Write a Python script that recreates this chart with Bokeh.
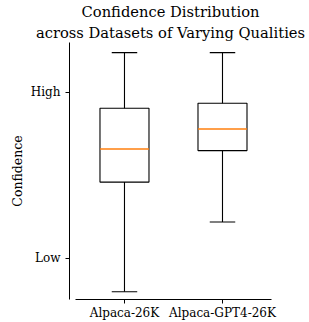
from bokeh.plotting import figure
from bokeh.models import ColumnDataSource, Title, FixedTicker, Range1d
from bokeh.transform import dodge
from bokeh.embed import file_html
from bokeh.resources import INLINE

# ---- data (Low = 0, High = 1 on the confidence scale) ----
categories = ["Alpaca-26K", "Alpaca-GPT4-26K"]
positions = [1, 2]
whisker_low = [-0.20, 0.22]
q1 = [0.46, 0.65]
median = [0.66, 0.78]
q3 = [0.905, 0.935]
whisker_high = [1.24, 1.24]
ytick_values = [0, 1]
ytick_labels = ["Low", "High"]
title_lines = ["Confidence Distribution", "across Datasets of Varying Qualities"]

src = ColumnDataSource(dict(x=positions, lo=whisker_low, q1=q1, med=median,
                            q3=q3, hi=whisker_high))

FONT = "DejaVu Serif"

p = figure(width=309, height=322, output_backend="svg", toolbar_location=None,
           x_range=Range1d(0.439, 2.5), y_range=Range1d(-0.247, 1.301),
           min_border_left=69, min_border_right=38, min_border_top=42,
           min_border_bottom=0)
p.title = None

# whiskers
p.segment(x0="x", y0="q3", x1="x", y1="hi", source=src, line_color="black", line_width=1.1)
p.segment(x0="x", y0="q1", x1="x", y1="lo", source=src, line_color="black", line_width=1.1)
# caps
p.segment(x0=dodge("x", -0.13), y0="hi", x1=dodge("x", 0.13), y1="hi", source=src,
          line_color="black", line_width=1.1)
p.segment(x0=dodge("x", -0.13), y0="lo", x1=dodge("x", 0.13), y1="lo", source=src,
          line_color="black", line_width=1.1)
# boxes
p.vbar(x="x", width=0.5, top="q3", bottom="q1", source=src, fill_color=None,
       line_color="black", line_width=1.1)
# medians
p.segment(x0=dodge("x", -0.25), y0="med", x1=dodge("x", 0.25), y1="med", source=src,
          line_color="#ff7f0e", line_width=1.5)

# axes
p.grid.visible = False
p.outline_line_color = None
p.xaxis.ticker = FixedTicker(ticks=positions)
p.xaxis.major_label_overrides = {pos: c for pos, c in zip(positions, categories)}
p.xaxis.bounds = (0.5, 2.5)
p.yaxis.ticker = FixedTicker(ticks=ytick_values)
p.yaxis.major_label_overrides = {v: l for v, l in zip(ytick_values, ytick_labels)}
p.yaxis.axis_label = "Confidence"
for ax in (p.xaxis, p.yaxis):
    ax.minor_tick_line_color = None
    ax.major_tick_in = 0
    ax.major_tick_out = 4
    ax.axis_line_color = "black"
    ax.major_tick_line_color = "black"
    ax.major_label_text_font = FONT
    ax.major_label_text_font_size = "12px"
    ax.major_label_text_color = "black"
    ax.axis_label_text_font = FONT
    ax.axis_label_text_font_size = "12.5px"
    ax.axis_label_text_font_style = "normal"
    ax.axis_label_text_color = "black"
p.xaxis.axis_label = None
p.xaxis.major_label_standoff = 2
p.yaxis.major_label_standoff = 5
p.yaxis.axis_label_standoff = 3

p.add_layout(Title(text=title_lines[1], align="center",
                   text_font=FONT, text_font_size="14.7px", text_font_style="normal",
                   text_color="black", standoff=4, offset=3), "above")
p.add_layout(Title(text=title_lines[0], align="center",
                   text_font=FONT, text_font_size="14.7px", text_font_style="normal",
                   text_color="black", standoff=0, offset=3), "above")

open("out.html", "w").write(file_html(p, INLINE))
